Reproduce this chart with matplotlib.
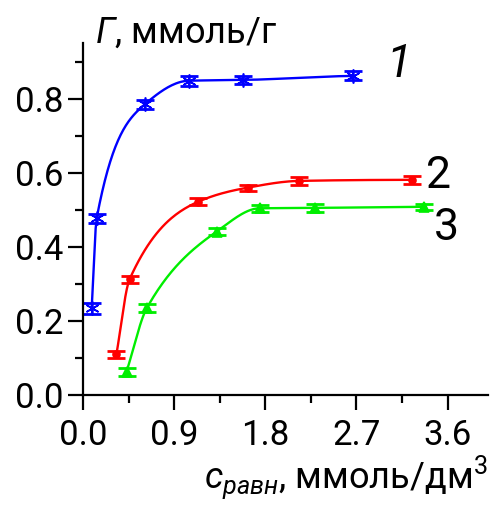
import numpy as np
import matplotlib
matplotlib.use("Agg")
import matplotlib.pyplot as plt
from matplotlib.ticker import MultipleLocator

plt.rcParams['font.family'] = ['Roboto', 'DejaVu Sans']
plt.rcParams['mathtext.fontset'] = 'custom'
plt.rcParams['mathtext.rm'] = 'Roboto'
plt.rcParams['mathtext.it'] = 'Roboto:italic'

# данные
x1 = [0.086, 0.135, 0.61, 1.045, 1.58, 2.67]
y1 = [0.235, 0.478, 0.786, 0.850, 0.852, 0.863]
e1 = [0.015, 0.012, 0.013, 0.013, 0.012, 0.012]

x2 = [0.33, 0.46, 1.14, 1.63, 2.13, 3.25]
y2 = [0.110, 0.313, 0.523, 0.561, 0.579, 0.582]
e2 = [0.010, 0.010, 0.010, 0.008, 0.011, 0.011]

x3 = [0.43, 0.63, 1.32, 1.745, 2.29, 3.37]
y3 = [0.063, 0.235, 0.442, 0.505, 0.506, 0.509]
e3 = [0.011, 0.010, 0.010, 0.010, 0.011, 0.008]

xticks = [0.0, 0.9, 1.8, 2.7, 3.6]
yticks = [0.0, 0.2, 0.4, 0.6, 0.8]


def pchip(x, y, n=200):
    # монотонная кубическая интерполяция (для гладкой линии)
    x = np.asarray(x, float)
    y = np.asarray(y, float)
    h = np.diff(x)
    d = np.diff(y) / h
    m = np.zeros_like(y)
    for k in range(1, len(x) - 1):
        if d[k - 1] * d[k] > 0:
            w1 = 2 * h[k] + h[k - 1]
            w2 = h[k] + 2 * h[k - 1]
            m[k] = (w1 + w2) / (w1 / d[k - 1] + w2 / d[k])
    m[0] = d[0]
    m[-1] = d[-1] * 0.3
    xs = np.linspace(x[0], x[-1], n)
    idx = np.clip(np.searchsorted(x, xs) - 1, 0, len(x) - 2)
    t = (xs - x[idx]) / h[idx]
    h00 = 2 * t**3 - 3 * t**2 + 1
    h10 = t**3 - 2 * t**2 + t
    h01 = -2 * t**3 + 3 * t**2
    h11 = t**3 - t**2
    ys = h00 * y[idx] + h10 * h[idx] * m[idx] + h01 * y[idx + 1] + h11 * h[idx] * m[idx + 1]
    return xs, ys


fig = plt.figure(figsize=(4.95, 5.08), dpi=100)
ax = fig.add_axes([83 / 495, 1 - 395 / 508, 405 / 495, 352 / 508])

series = [
    (x1, y1, e1, '#0000ff', (6, 2, 0), 10),
    (x2, y2, e2, '#ff0000', 'o', 5),
    (x3, y3, e3, '#00ee00', '^', 7),
]
for x, y, e, c, mk, ms in series:
    xs, ys = pchip(x, y)
    ax.plot(xs, ys, color=c, lw=1.7)
    ax.errorbar(x, y, yerr=e, fmt='none', ecolor=c, elinewidth=1.5,
                capsize=6.5, capthick=2)
    ax.plot(x, y, ls='none', marker=mk, ms=ms, color=c, mec=c, mew=1.2)

ax.set_xlim(0, 4.0)
ax.set_ylim(0, 0.952)
ax.set_xticks(xticks)
ax.set_yticks(yticks)
ax.xaxis.set_minor_locator(MultipleLocator(0.45))
ax.yaxis.set_minor_locator(MultipleLocator(0.1))
ax.set_xticklabels(['%.1f' % v for v in xticks])
ax.set_yticklabels(['%.1f' % v for v in yticks])

for s in ['top', 'right']:
    ax.spines[s].set_visible(False)
for s in ['left', 'bottom']:
    ax.spines[s].set_linewidth(1.6)
ax.tick_params(which='major', direction='out', length=11, width=1.6, labelsize=25)
ax.tick_params(which='minor', direction='out', length=6, width=1.6)
ax.tick_params(axis='x', pad=6)
ax.tick_params(axis='y', pad=3)

fig.text(95 / 495, 1 - 43 / 508, r'$\mathit{Г}$, ммоль/г', fontsize=26, ha='left', va='baseline')
fig.text(488 / 495, 1 - 488 / 508, r'$\mathit{c}_{\mathit{равн}}$, ммоль/дм$^3$', fontsize=26,
         ha='right', va='baseline')

ax.text(3.0, 0.860, '1', style='italic', fontsize=33, ha='left', va='baseline')
ax.text(3.39, 0.560, '2', fontsize=32, ha='left', va='baseline')
ax.text(3.47, 0.419, '3', fontsize=32, ha='left', va='baseline')

fig.savefig('out.png', dpi=100)
